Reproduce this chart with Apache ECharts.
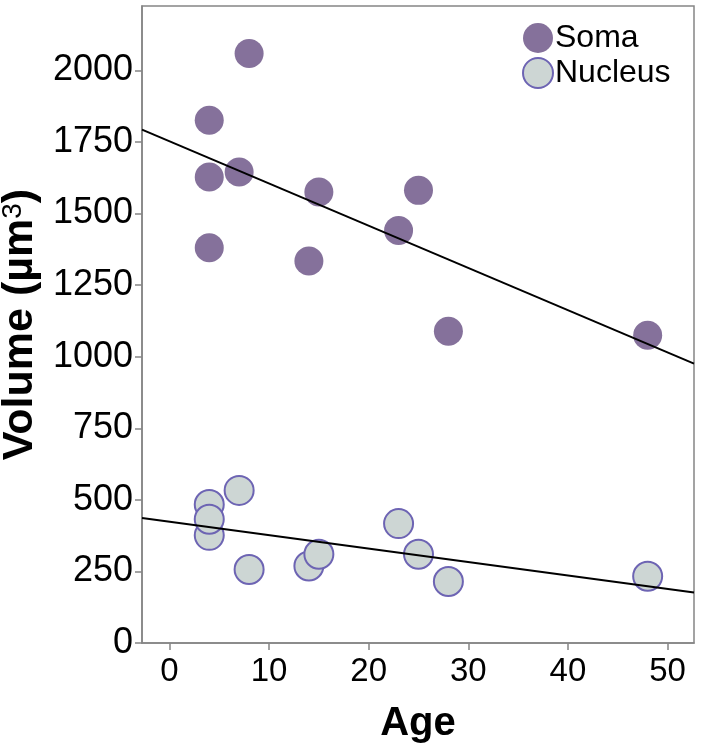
<!DOCTYPE html>
<html>
<head>
<meta charset="utf-8">
<script src="https://cdn.jsdelivr.net/npm/echarts@6/dist/echarts.min.js"></script>
<style>
html,body{margin:0;padding:0;background:#fff;}
#c{width:701px;height:750px;}
</style>
</head>
<body>
<div id="c"></div>
<script>
// Data
var somaAge = [4, 4, 4, 7, 8, 14, 15, 23, 25, 28, 48];
var somaVol = [1826, 1628, 1381, 1645, 2059, 1334, 1575, 1441, 1581, 1089, 1075];
var nucAge  = [4, 4, 4, 7, 8, 14, 15, 23, 25, 28, 48];
var nucVol  = [484, 376, 432, 533, 257, 269, 310, 417, 310, 215, 233];
var fitAge  = [-2.75, 52.65];
var somaFit = [1793, 976];
var nucFit  = [437, 176];
var xTicks  = [0, 10, 20, 30, 40, 50];
var yTicks  = [0, 250, 500, 750, 1000, 1250, 1500, 1750, 2000];
var seriesNames = ['Soma', 'Nucleus'];

function pairs(xs, ys) { return xs.map(function (x, i) { return [x, ys[i]]; }); }

var FONT = '"Liberation Sans", Arial, sans-serif';
var AXIS_COLOR = '#858585';

var chart = echarts.init(document.getElementById('c'));
chart.setOption({
  animation: false,
  backgroundColor: '#fff',
  textStyle: { fontFamily: FONT },
  grid: {
    left: 142, right: 7, top: 6, bottom: 107,
    containLabel: false, outerBoundsMode: 'none',
    show: true, borderColor: AXIS_COLOR, borderWidth: 1.5, backgroundColor: 'transparent'
  },
  legend: {
    data: seriesNames,
    orient: 'vertical',
    left: 517, top: 17,
    itemWidth: 30, itemHeight: 30, itemGap: 3,
    icon: 'circle',
    textStyle: { fontFamily: FONT, fontSize: 32, color: '#000', padding: [0, 0, 0, -3] }
  },
  xAxis: {
    type: 'value',
    min: fitAge[0], max: fitAge[1],
    name: 'Age',
    nameLocation: 'middle',
    nameGap: 61,
    nameTextStyle: { fontFamily: FONT, fontSize: 40, fontWeight: 'bold', color: '#000' },
    splitLine: { show: false },
    axisLine: { show: true, onZero: false, lineStyle: { color: AXIS_COLOR, width: 1.5 } },
    axisTick: { show: true, length: 7, lineStyle: { color: AXIS_COLOR, width: 1.5 }, customValues: xTicks },
    axisLabel: { fontFamily: FONT, fontSize: 33, color: '#000', margin: 12, customValues: xTicks,
      formatter: function (v) { return String(v); } }
  },
  yAxis: {
    type: 'value',
    min: 0, max: 2225,
    name: '{a|Volume (µm}{s|3}{a|)}',
    nameLocation: 'middle',
    nameRotate: 90,
    nameGap: 96,
    nameTextStyle: {
      fontFamily: FONT, color: '#000',
      rich: {
        a: { fontFamily: FONT, fontSize: 43, fontWeight: 'bold', color: '#000' },
        s: { fontFamily: FONT, fontSize: 28, color: '#000', verticalAlign: 'top' }
      }
    },
    splitLine: { show: false },
    axisLine: { show: true, onZero: false, lineStyle: { color: AXIS_COLOR, width: 1.5 } },
    axisTick: { show: true, length: 7, lineStyle: { color: AXIS_COLOR, width: 1.5 }, customValues: yTicks },
    axisLabel: { fontFamily: FONT, fontSize: 36, color: '#000', margin: 9, customValues: yTicks,
      formatter: function (v) { return String(v); } }
  },
  series: [
    {
      name: 'Soma', type: 'scatter', symbol: 'circle', symbolSize: 29,
      itemStyle: { color: '#85719b', opacity: 1 },
      data: pairs(somaAge, somaVol), z: 2
    },
    {
      name: 'Nucleus', type: 'scatter', symbol: 'circle', symbolSize: 29,
      itemStyle: { color: '#cdd6d4', borderColor: '#6d64b3', borderWidth: 2, opacity: 1 },
      data: pairs(nucAge, nucVol), z: 2
    },
    {
      name: 'SomaFit', type: 'line', showSymbol: false, symbol: 'none', silent: true,
      lineStyle: { color: '#000', width: 2 },
      data: pairs(fitAge, somaFit), z: 5
    },
    {
      name: 'NucleusFit', type: 'line', showSymbol: false, symbol: 'none', silent: true,
      lineStyle: { color: '#000', width: 2 },
      data: pairs(fitAge, nucFit), z: 5
    }
  ]
});
</script>
</body>
</html>
